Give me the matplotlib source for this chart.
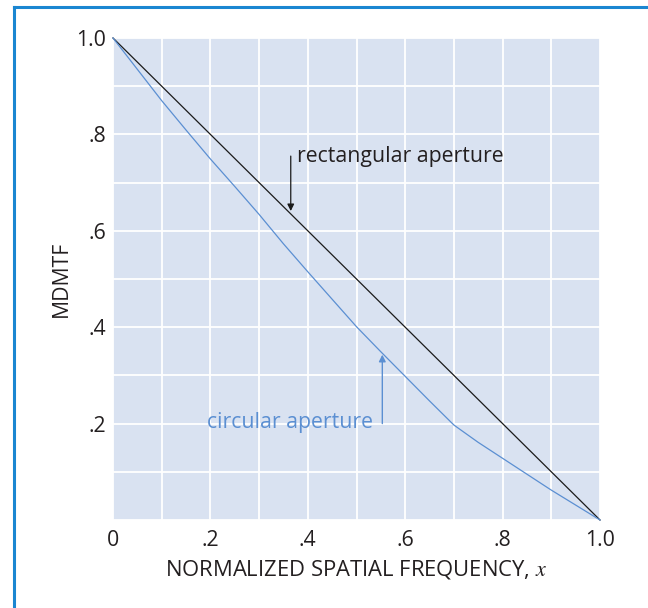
import matplotlib
matplotlib.use("Agg")
import matplotlib.pyplot as plt
from matplotlib.lines import Line2D
from matplotlib.ticker import MultipleLocator, FixedLocator

plt.rcParams['font.family'] = ['Open Sans', 'DejaVu Sans']
plt.rcParams['mathtext.fontset'] = 'stix'

# Data
freq = [0.0, 0.05, 0.1, 0.15, 0.2, 0.25, 0.3, 0.35, 0.4, 0.45, 0.5, 0.55,
        0.6, 0.65, 0.7, 0.75, 0.8, 0.85, 0.9, 0.95, 1.0]
circular = [1.0, 0.935, 0.870, 0.809, 0.749, 0.692, 0.634, 0.573, 0.515, 0.458, 0.401, 0.349,
            0.298, 0.247, 0.197, 0.161, 0.128, 0.095, 0.062, 0.031, 0.0]
rect_freq = [0.0, 1.0]
rectangular = [1.0, 0.0]
xtick_vals = [0.0, 0.2, 0.4, 0.6, 0.8, 1.0]
xtick_labels = ['0', '.2', '.4', '.6', '.8', '1.0']
ytick_vals = [0.2, 0.4, 0.6, 0.8, 1.0]
ytick_labels = ['.2', '.4', '.6', '.8', '1.0']

BLUE = '#5b8fd2'
BG = '#d9e2f1'
TXT = '#231f20'
FS = 15.3

fig = plt.figure(figsize=(6.48, 6.08), dpi=100)
ax = fig.add_axes([113/648, 1-520/608, 487/648, 482/608])
ax.set_facecolor(BG)
ax.set_xlim(0, 1.0)
ax.set_ylim(0, 1.0)

ax.xaxis.set_major_locator(FixedLocator(xtick_vals))
ax.yaxis.set_major_locator(FixedLocator(ytick_vals))
ax.xaxis.set_minor_locator(MultipleLocator(0.1))
ax.yaxis.set_minor_locator(MultipleLocator(0.1))
ax.set_xticklabels(xtick_labels)
ax.set_yticklabels(ytick_labels)
ax.grid(True, which='both', color='white', linewidth=1.3)
ax.set_axisbelow(True)
ax.tick_params(which='both', length=0, labelsize=FS, colors=TXT)
ax.tick_params(axis='x', pad=7)
ax.tick_params(axis='y', pad=5)
for s in ax.spines.values():
    s.set_visible(False)

ax.plot(rect_freq, rectangular, color='#1a1a1a', linewidth=0.9, clip_on=False, zorder=3)
ax.plot(freq, circular, color=BLUE, linewidth=0.9, clip_on=False, zorder=3)

ax.annotate('', xy=(0.365, 0.641), xytext=(0.365, 0.755),
            arrowprops=dict(arrowstyle='-|>', color='#1a1a1a', lw=0.9,
                            mutation_scale=10, shrinkA=0, shrinkB=0))
ax.text(0.378, 0.755, 'rectangular aperture', fontsize=FS, color=TXT,
        ha='left', va='center')

ax.annotate('', xy=(0.553, 0.343), xytext=(0.553, 0.2),
            arrowprops=dict(arrowstyle='-|>', color=BLUE, lw=1.0,
                            mutation_scale=10, shrinkA=0, shrinkB=0))
ax.text(0.192, 0.203, 'circular aperture', fontsize=FS, color=BLUE,
        ha='left', va='center')

ax.set_xlabel('NORMALIZED SPATIAL FREQUENCY, $x$', fontsize=15.8, color=TXT, labelpad=5)
ax.set_ylabel('MDMTF', fontsize=FS, color=TXT, labelpad=3)

# Blue frame (top and left edges)
fig.add_artist(Line2D([14/648, 14/648], [0, 1-6.5/608], transform=fig.transFigure,
                      color='#1a86d1', linewidth=2.2))
fig.add_artist(Line2D([14/648, 1], [1-6.5/608, 1-6.5/608], transform=fig.transFigure,
                      color='#1a86d1', linewidth=2.2))

fig.savefig('out.png', dpi=100)
